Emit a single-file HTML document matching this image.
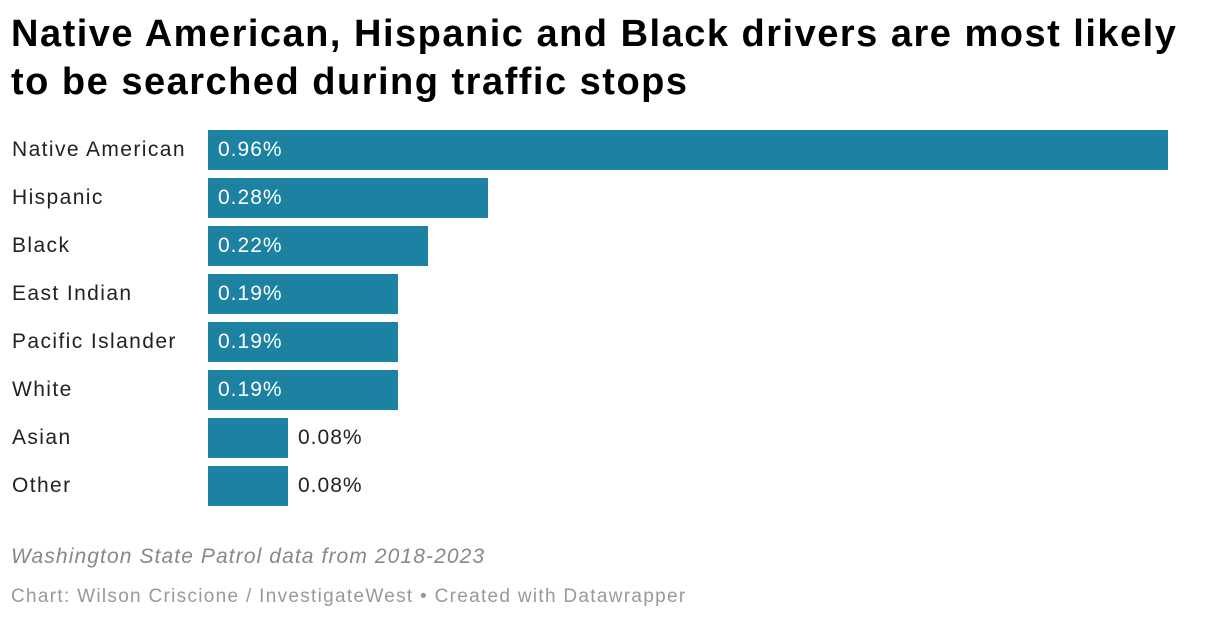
<!DOCTYPE html>
<html><head><meta charset="utf-8"><style>
body{margin:0;width:1220px;height:620px;background:#fff;font-family:"Liberation Sans",Arial,sans-serif;overflow:hidden;position:relative}
h1{position:absolute;left:11px;top:10px;margin:0;font-size:38px;line-height:48px;font-weight:bold;color:#000;letter-spacing:1.5px;white-space:nowrap}
.lab{position:absolute;left:12px;font-size:21px;color:#222;line-height:40px;letter-spacing:1.4px;white-space:nowrap}
.bar{position:absolute;left:208px;height:40px;background:#1d81a2}
.val{position:absolute;font-size:21px;line-height:40px;letter-spacing:1px}
.note{position:absolute;left:11px;top:545px;font-size:21px;font-style:italic;color:#888;letter-spacing:1.1px;white-space:nowrap}
.cred{position:absolute;left:11px;top:586px;font-size:19px;color:#999;letter-spacing:1.3px;white-space:nowrap}
</style></head><body>
<h1>Native American, Hispanic and Black drivers are most likely<br>to be searched during traffic stops</h1>
<div id="chart"></div>
<div class="note">Washington State Patrol data from 2018-2023</div>
<div class="cred">Chart: Wilson Criscione / InvestigateWest • Created with Datawrapper</div>
<script>
const categories=["Native American","Hispanic","Black","East Indian","Pacific Islander","White","Asian","Other"];
const values=[0.96,0.28,0.22,0.19,0.19,0.19,0.08,0.08];
const x=v=>v*1000;
const y=i=>130+i*48;
const c=document.getElementById('chart');
categories.forEach((cat,i)=>{
  const l=document.createElement('div');l.className='lab';l.style.top=y(i)+'px';l.textContent=cat;
  
  
  c.appendChild(l);
  const b=document.createElement('div');b.className='bar';b.style.top=y(i)+'px';b.style.width=x(values[i])+'px';
  
  
  c.appendChild(b);
  const v=document.createElement('div');v.className='val';v.style.top=y(i)+'px';
  v.textContent=values[i].toFixed(2)+'%';
  const inside=x(values[i])>120;
  v.style.left=(inside?218:208+x(values[i])+10)+'px';
  v.style.color=inside?'#fff':'#222';
  
  
  c.appendChild(v);
});
</script>
</body></html>
